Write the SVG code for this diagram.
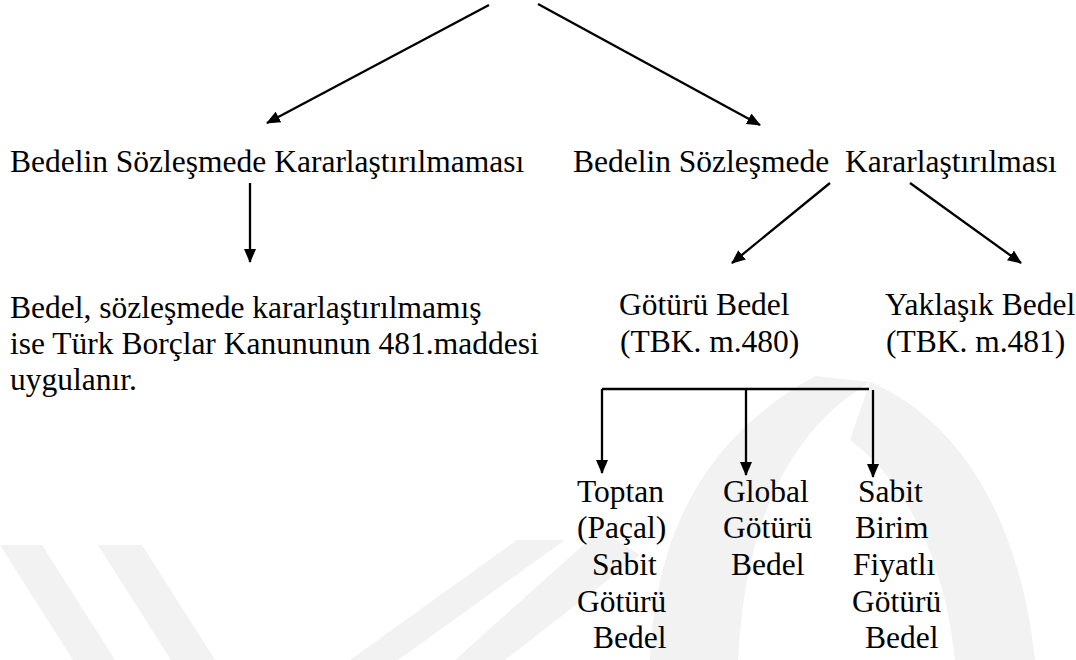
<svg xmlns="http://www.w3.org/2000/svg" width="1076" height="660" viewBox="0 0 1076 660">
<style>
  .t { font-size: 31.5px; fill: #000; white-space: pre; }
  .c { stroke: #000; stroke-width: 2.3; fill: none; }
  .wm { fill: #f2f2f2; stroke: none; }
</style>
<defs>
  <marker id="ah" viewBox="0 0 14 12" refX="13" refY="6" markerWidth="14" markerHeight="12" markerUnits="userSpaceOnUse" orient="auto">
    <path d="M0,0 L14,6 L0,12 Z" fill="#000"/>
  </marker>
</defs>
<rect width="1076" height="660" fill="#fff"/>
<g id="watermark">
  <path class="wm" d="M650,660 C655,540 700,440 815,376 L870,382 C790,430 745,520 738,660 Z"/>
  <path class="wm" d="M870,382 C960,420 1020,520 1035,660 L955,660 C945,560 905,480 850,440 Z"/>
  <path class="wm" d="M0,545 L42,545 L115,660 L73,660 Z"/>
  <path class="wm" d="M98,545 L142,545 L215,660 L171,660 Z"/>
  <path class="wm" d="M350,660 L398,660 L565,540 L517,540 Z"/>
  <path class="wm" d="M455,660 L505,660 L640,555 L600,530 Z"/>
</g>
<g id="connectors">
  <line class="c" x1="489" y1="5" x2="267" y2="123" marker-end="url(#ah)"/>
  <line class="c" x1="538" y1="4" x2="760" y2="125" marker-end="url(#ah)"/>
  <line class="c" x1="250" y1="183" x2="250" y2="262" marker-end="url(#ah)"/>
  <line class="c" x1="830" y1="183" x2="732" y2="263" marker-end="url(#ah)"/>
  <line class="c" x1="910" y1="183" x2="1021" y2="263" marker-end="url(#ah)"/>
  <path class="c" d="M602,389 H869"/>
  <line class="c" x1="602" y1="389" x2="602" y2="473" marker-end="url(#ah)"/>
  <line class="c" x1="746" y1="389" x2="746" y2="475" marker-end="url(#ah)"/>
  <line class="c" x1="873" y1="390" x2="873" y2="477" marker-end="url(#ah)"/>
</g>
<g font-family="Liberation Serif, serif">
<g id="node-kararlastirilmamasi">
  <text class="t" x="10" y="172">Bedelin Sözleşmede Kararlaştırılmaması</text>
</g>
<g id="node-kararlastirilmasi">
  <text class="t" x="573" y="172">Bedelin Sözleşmede  Kararlaştırılması</text>
</g>
<g id="node-tbk481">
  <text class="t" x="10" y="318">Bedel, sözleşmede kararlaştırılmamış</text>
  <text class="t" x="10" y="354">ise Türk Borçlar Kanununun 481.maddesi</text>
  <text class="t" x="10" y="390">uygulanır.</text>
</g>
<g id="node-goturu">
  <text class="t" x="619" y="315">Götürü Bedel</text>
  <text class="t" x="620" y="352">(TBK. m.480)</text>
</g>
<g id="node-yaklasik">
  <text class="t" x="885" y="315">Yaklaşık Bedel</text>
  <text class="t" x="886" y="352">(TBK. m.481)</text>
</g>
<g id="node-toptan">
  <text class="t" x="577" y="502">Toptan</text>
  <text class="t" x="577" y="538">(Paçal)</text>
  <text class="t" x="592" y="575">Sabit</text>
  <text class="t" x="577" y="612">Götürü</text>
  <text class="t" x="593" y="648">Bedel</text>
</g>
<g id="node-global">
  <text class="t" x="723" y="502">Global</text>
  <text class="t" x="723" y="538">Götürü</text>
  <text class="t" x="731" y="575">Bedel</text>
</g>
<g id="node-birim">
  <text class="t" x="858" y="502">Sabit</text>
  <text class="t" x="855" y="538">Birim</text>
  <text class="t" x="853" y="575">Fiyatlı</text>
  <text class="t" x="852" y="612">Götürü</text>
  <text class="t" x="865" y="648">Bedel</text>
</g>
</g>
</svg>
